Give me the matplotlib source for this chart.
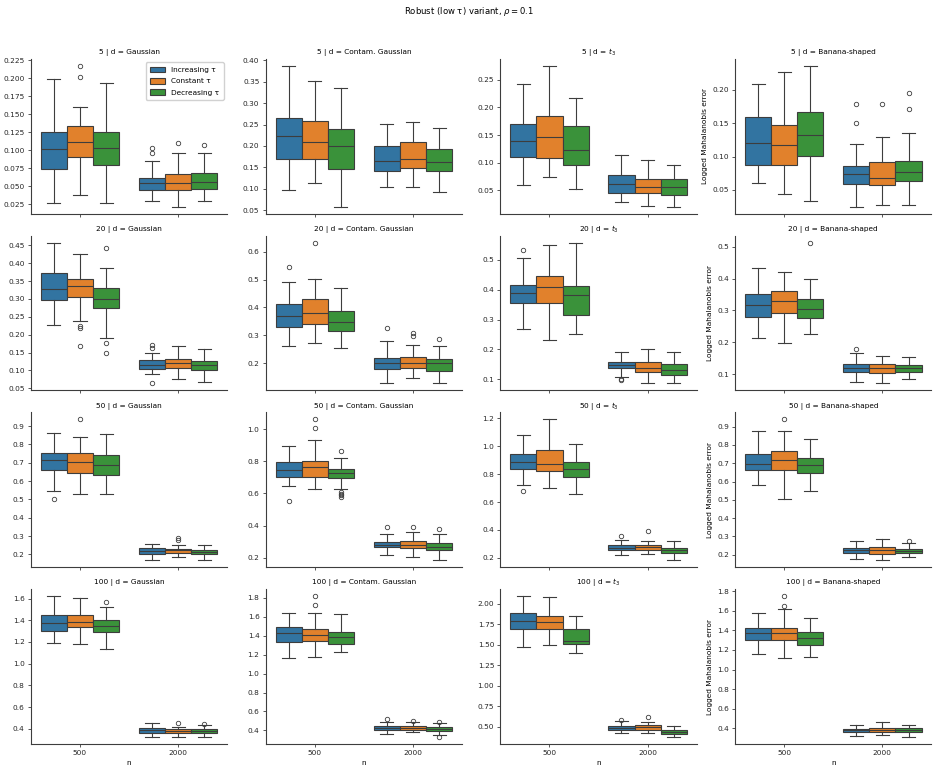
import numpy as np
import matplotlib
matplotlib.use("Agg")
import matplotlib.pyplot as plt
from matplotlib.patches import Patch

# ---- data ----
dims = [5, 20, 50, 100]
dists = ["Gaussian", "Contam. Gaussian", "$t_3$", "Banana-shaped"]
n_labels = ["500", "2000"]
schedules = ["Increasing τ", "Constant τ", "Decreasing τ"]

# each box: [whislo, q1, med, q3, whishi]; order per panel:
# n=500 (inc, const, dec), n=2000 (inc, const, dec)
gaussian = [
    [[0.027, 0.0746, 0.1014, 0.125, 0.1995], [0.0383, 0.0908, 0.111, 0.1337, 0.1604],
     [0.0266, 0.0797, 0.1032, 0.125, 0.194], [0.0295, 0.045, 0.0543, 0.0622, 0.0852],
     [0.022, 0.0447, 0.055, 0.067, 0.0968], [0.030, 0.046, 0.0557, 0.0682, 0.097]],
    [[0.2277, 0.2965, 0.329, 0.3728, 0.4574], [0.237, 0.3049, 0.3365, 0.357, 0.4267],
     [0.1904, 0.2733, 0.2984, 0.3309, 0.3867], [0.091, 0.104, 0.1142, 0.13, 0.1495],
     [0.076, 0.1058, 0.1216, 0.1309, 0.169], [0.0677, 0.1012, 0.1142, 0.1253, 0.1607]],
    [[0.548, 0.6617, 0.7159, 0.7556, 0.8639], [0.53, 0.6455, 0.7032, 0.752, 0.8404],
     [0.5318, 0.6347, 0.687, 0.743, 0.8585], [0.169, 0.2032, 0.2195, 0.2357, 0.2592],
     [0.1852, 0.2087, 0.2231, 0.2321, 0.2538], [0.1708, 0.2014, 0.2159, 0.2267, 0.2502]],
    [[1.1859, 1.3025, 1.373, 1.4528, 1.6215], [1.1767, 1.3393, 1.3853, 1.4497, 1.6031],
     [1.1368, 1.2871, 1.3485, 1.4006, 1.5202], [0.3239, 0.3607, 0.3853, 0.4037, 0.4558],
     [0.3239, 0.3577, 0.3791, 0.3945, 0.419], [0.3239, 0.3577, 0.3791, 0.3945, 0.4313]],
]
gaussian_fliers = [
    [[], [0.2176, 0.2015], [], [0.1032, 0.0958], [0.1097], [0.108]],
    [[], [0.2249, 0.2184, 0.1672], [0.4426, 0.1756, 0.1477], [0.1718, 0.1625, 0.0639], [], []],
    [[0.501], [0.9361], [], [], [0.2899, 0.2773], []],
    [[], [], [1.5663], [], [0.4558], [0.4466]],
]

contam = [
    [[0.0964, 0.1686, 0.223, 0.2657, 0.3876], [0.1135, 0.1686, 0.2098, 0.2587, 0.3519],
     [0.0584, 0.1469, 0.1989, 0.2393, 0.3356], [0.1042, 0.1422, 0.164, 0.1989, 0.2525],
     [0.105, 0.1477, 0.1686, 0.2098, 0.2564], [0.0918, 0.1414, 0.1624, 0.1935, 0.2432]],
    [[0.2607, 0.3298, 0.3679, 0.4131, 0.4929], [0.2738, 0.3417, 0.381, 0.4286, 0.5012],
     [0.256, 0.3155, 0.3464, 0.3857, 0.4702], [0.1286, 0.1786, 0.2, 0.2202, 0.281],
     [0.1476, 0.1845, 0.2024, 0.2226, 0.2667], [0.1298, 0.1714, 0.2, 0.2155, 0.2607]],
    [[0.6474, 0.7052, 0.7443, 0.7938, 0.8928], [0.6247, 0.7052, 0.765, 0.8, 0.934],
     [0.6268, 0.6948, 0.7278, 0.7526, 0.8186], [0.2165, 0.266, 0.2825, 0.301, 0.3485],
     [0.2041, 0.264, 0.2784, 0.3072, 0.3629], [0.1856, 0.2474, 0.2701, 0.2949, 0.3485]],
    [[1.166, 1.3342, 1.4252, 1.4953, 1.6424], [1.1731, 1.3447, 1.4112, 1.4708, 1.6354],
     [1.2291, 1.3167, 1.3902, 1.4427, 1.6249], [0.365, 0.407, 0.428, 0.4455, 0.4911],
     [0.386, 0.407, 0.421, 0.442, 0.4866], [0.3545, 0.393, 0.414, 0.4315, 0.4735]],
]
contam_fliers = [
    [[], [], [], [], [], []],
    [[0.5452], [0.6321], [], [0.3262], [0.3071, 0.2988], [0.2869]],
    [[0.5526], [1.0598, 1.0082], [0.866, 0.6082, 0.5938, 0.5876, 0.5794], [0.3897], [0.3938], [0.3773]],
    [[], [1.8175, 1.7229], [], [0.5181], [0.497], [0.4911, 0.33]],
]

t3 = [
    [[0.059, 0.1095, 0.1383, 0.1701, 0.2428], [0.0734, 0.1083, 0.1455, 0.1838, 0.2752],
     [0.0518, 0.0956, 0.1227, 0.1671, 0.217], [0.029, 0.0452, 0.0608, 0.0776, 0.1136],
     [0.0218, 0.0458, 0.0566, 0.0704, 0.1052], [0.0206, 0.0422, 0.0566, 0.0704, 0.0962]],
    [[0.2682, 0.3552, 0.3875, 0.4164, 0.5067], [0.2326, 0.354, 0.4097, 0.4476, 0.5513],
     [0.2515, 0.3139, 0.383, 0.412, 0.5579], [0.1067, 0.1368, 0.1479, 0.1591, 0.1925],
     [0.0866, 0.1256, 0.1368, 0.1591, 0.2025], [0.0866, 0.1145, 0.1323, 0.1513, 0.1925]],
    [[0.7202, 0.8366, 0.8841, 0.9435, 1.0812], [0.6988, 0.8223, 0.8698, 0.9743, 1.1929],
     [0.6608, 0.7772, 0.8342, 0.8888, 1.0195], [0.2238, 0.2546, 0.2713, 0.2903, 0.3306],
     [0.2309, 0.2594, 0.276, 0.295, 0.3188], [0.1834, 0.2356, 0.2546, 0.2713, 0.3188]],
    [[1.4756, 1.6911, 1.7886, 1.8902, 2.0935], [1.4919, 1.6911, 1.7805, 1.8577, 2.0813],
     [1.3943, 1.5122, 1.5447, 1.6911, 1.8537], [0.4187, 0.4593, 0.4878, 0.5081, 0.565],
     [0.4228, 0.4553, 0.5, 0.5163, 0.5569], [0.374, 0.4106, 0.435, 0.4593, 0.5122]],
]
t3_fliers = [
    [[], [], [], [], [], []],
    [[0.5334], [], [], [0.102, 0.098], [], []],
    [[0.6774], [], [], [0.3591], [0.3924], []],
    [[], [], [], [0.5772], [0.6138], []],
]

banana = [
    [[0.06, 0.0878, 0.1206, 0.1598, 0.209], [0.0446, 0.0868, 0.1176, 0.1479, 0.2268],
     [0.0337, 0.1002, 0.1315, 0.1667, 0.2358], [0.0252, 0.0585, 0.0734, 0.0863, 0.119],
     [0.0272, 0.0575, 0.0684, 0.0923, 0.1295], [0.0282, 0.0634, 0.0764, 0.0932, 0.1354]],
    [[0.2135, 0.2792, 0.3177, 0.3531, 0.4344], [0.1969, 0.2927, 0.3302, 0.3615, 0.4198],
     [0.225, 0.275, 0.3031, 0.3365, 0.3979], [0.075, 0.1083, 0.1198, 0.1333, 0.1677],
     [0.0719, 0.1052, 0.1208, 0.1333, 0.1573], [0.0865, 0.1063, 0.1188, 0.1292, 0.1552]],
    [[0.5812, 0.6645, 0.6953, 0.7496, 0.8746], [0.5069, 0.6609, 0.717, 0.7696, 0.8746],
     [0.5486, 0.6482, 0.688, 0.7279, 0.833], [0.1772, 0.2098, 0.2243, 0.2351, 0.275],
     [0.17, 0.2062, 0.2243, 0.2424, 0.2877], [0.1862, 0.2098, 0.2207, 0.2315, 0.2641]],
    [[1.1612, 1.3007, 1.3687, 1.4299, 1.583], [1.1204, 1.3007, 1.3687, 1.4299, 1.6238],
     [1.1306, 1.2531, 1.3211, 1.3789, 1.532], [0.3245, 0.3585, 0.3789, 0.3959, 0.4333],
     [0.3347, 0.3585, 0.3823, 0.4061, 0.4605], [0.3109, 0.3619, 0.3823, 0.4027, 0.4333]],
]
banana_fliers = [
    [[], [], [], [0.1791, 0.1503], [0.1782], [0.195, 0.1707]],
    [[], [], [0.5125], [0.1792], [], []],
    [[], [0.9399], [], [], [], [0.275]],
    [[], [1.7497, 1.6476], [], [], [], []],
]

# ---- style ----
colors = ["#3274a1", "#e1812c", "#3a923a"]
gray = "#3d3d3d"
fs = 5.3
plt.rcParams["font.family"] = "DejaVu Sans"
plt.rcParams["font.size"] = fs

fig, axes = plt.subplots(4, 4, figsize=(9.38, 7.73), dpi=100, sharex=True)
fig.subplots_adjust(left=0.033, right=0.993, top=0.924, bottom=0.0375,
                    wspace=0.196, hspace=0.142)

boxes_by_col = [gaussian, contam, t3, banana]
fliers_by_col = [gaussian_fliers, contam_fliers, t3_fliers, banana_fliers]
width = 0.8 / 3

for r, dim in enumerate(dims):
    for c, dist in enumerate(dists):
        ax = axes[r, c]
        for k, (box, fl) in enumerate(zip(boxes_by_col[c][r], fliers_by_col[c][r])):
            cat, hue = divmod(k, 3)
            pos = cat + (hue - 1) * width
            stats = [dict(whislo=box[0], q1=box[1], med=box[2], q3=box[3],
                          whishi=box[4], fliers=fl)]
            ax.bxp(stats, positions=[pos], widths=width, patch_artist=True,
                   capwidths=width / 2, manage_ticks=False,
                   boxprops=dict(facecolor=colors[hue], edgecolor=gray, linewidth=0.8),
                   medianprops=dict(color=gray, linewidth=0.8),
                   whiskerprops=dict(color=gray, linewidth=0.8),
                   capprops=dict(color=gray, linewidth=0.8),
                   flierprops=dict(marker="o", markersize=3.2, markerfacecolor="none",
                                   markeredgecolor=gray, markeredgewidth=0.6,
                                   linestyle="none"))
        ax.set_xlim(-0.5, 1.5)
        ax.set_xticks([0, 1])
        ax.spines["top"].set_visible(False)
        ax.spines["right"].set_visible(False)
        for s in ["left", "bottom"]:
            ax.spines[s].set_linewidth(0.8)
            ax.spines[s].set_color(gray)
        ax.tick_params(labelsize=fs, length=2.5, width=0.6, colors=gray,
                       labelcolor="#262626", pad=2)
        ax.set_title(f"{dim} | d = {dist}", fontsize=fs, pad=3.5)
        if r == 3:
            ax.set_xticklabels(n_labels)
            ax.set_xlabel("n", fontsize=fs, labelpad=3)
        if c == 3:
            ax.set_ylabel("Logged Mahalanobis error", fontsize=fs, labelpad=3)

handles = [Patch(facecolor=col, edgecolor=gray, linewidth=0.8, label=lab)
           for col, lab in zip(colors, schedules)]
axes[0, 0].legend(handles=handles, loc="upper right", fontsize=fs,
                  handlelength=2.0, handleheight=0.8, borderpad=0.6,
                  labelspacing=0.65, framealpha=0.9, edgecolor="#cccccc",
                  bbox_to_anchor=(1.0, 1.0))

fig.suptitle(r"Robust (low τ) variant, $\rho = 0.1$", fontsize=6.1, y=0.993)

fig.savefig("out.png", dpi=100)
